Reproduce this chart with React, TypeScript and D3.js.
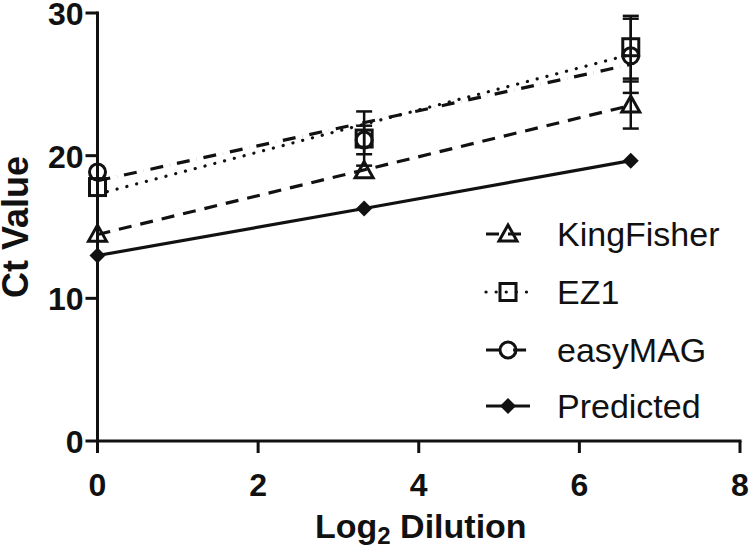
import React from "react";
import * as d3 from "d3";

const xValues = [0, 3.32, 6.64];
const seriesNames = ["KingFisher", "EZ1", "easyMAG", "Predicted"];
const kingFisher = [14.5, 18.95, 23.55];
const kingFisherErr = [0, 0, 1.65];
const ez1 = [17.8, 21.2, 27.6];
const ez1Err = [0, 1.9, 2.2];
const easyMAG = [18.85, 21.1, 27.0];
const easyMAGErr = [0, 1.0, 2.6];
const predicted = [13.0, 16.3, 19.65];
const xTicks = [0, 2, 4, 6, 8];
const yTicks = [0, 10, 20, 30];

const W = 750, H = 553;
const x = d3.scaleLinear().domain([0, 8]).range([97.5, 740]);
const y = d3.scaleLinear().domain([0, 30]).range([441, 13]);

type Kind = "triangle" | "square" | "circle" | "diamond";
const styles: { dash: string | undefined; kind: Kind; fit: boolean }[] = [
  { dash: "13 9", kind: "triangle", fit: true },
  { dash: "0.1 10", kind: "square", fit: true },
  { dash: "13 7 0.1 7", kind: "circle", fit: true },
  { dash: undefined, kind: "diamond", fit: false },
];
const data = [kingFisher, ez1, easyMAG, predicted];
const errs = [kingFisherErr, ez1Err, easyMAGErr, null];

function fit(xs: number[], ys: number[]) {
  const mx = d3.mean(xs)!, my = d3.mean(ys)!;
  const num = d3.sum(xs, (v, i) => (v - mx) * (ys[i] - my));
  const den = d3.sum(xs, (v) => (v - mx) * (v - mx));
  const b = num / den;
  return { a: my - b * mx, b };
}

function Marker({ kind, cx, cy }: { kind: Kind; cx: number; cy: number }) {
  const sw = 3;
  if (kind === "triangle")
    return (
      <path d={`M${cx},${cy - 9}L${cx + 9},${cy + 7}L${cx - 9},${cy + 7}Z`} fill="none" stroke="#111" strokeWidth={sw} strokeLinejoin="miter" />
    );
  if (kind === "square")
    return <rect x={cx - 8} y={cy - 8.5} width={16} height={17} fill="none" stroke="#111" strokeWidth={sw} />;
  if (kind === "circle") return <circle cx={cx} cy={cy} r={8} fill="none" stroke="#111" strokeWidth={sw} />;
  return <path d={`M${cx},${cy - 8}L${cx + 8},${cy}L${cx},${cy + 8}L${cx - 8},${cy}Z`} fill="#111" />;
}

export default function App() {
  const line = d3
    .line<[number, number]>()
    .x((d) => x(d[0]))
    .y((d) => y(d[1]));
  const legendY = [234, 292, 350, 406];
  const tickFont = "'Liberation Sans', Arial, sans-serif";
  return (
    <svg width={W} height={H} style={{ position: "absolute", left: 0, top: 0, background: "#fff" }}>
      {data.map((ys, i) => {
        const st = styles[i];
        let pts: [number, number][];
        if (st.fit) {
          const f = fit(xValues, ys);
          pts = [
            [xValues[0], f.a + f.b * xValues[0]],
            [xValues[xValues.length - 1], f.a + f.b * xValues[xValues.length - 1]],
          ];
        } else pts = xValues.map((v, j) => [v, ys[j]] as [number, number]);
        return (
          <path key={"l" + i} d={line(pts)!} fill="none" stroke="#111" strokeWidth={3.2} strokeDasharray={st.dash} strokeLinecap={st.dash && st.dash.startsWith("0.1") ? "round" : "butt"} />
        );
      })}
      {errs.map((e, i) =>
        e
          ? xValues.map((v, j) =>
              e[j] > 0 ? (
                <g key={`e${i}-${j}`} stroke="#111" strokeWidth={2.5}>
                  <line x1={x(v)} x2={x(v)} y1={y(data[i][j] - e[j])} y2={y(data[i][j] + e[j])} />
                  <line x1={x(v) - 8} x2={x(v) + 8} y1={y(data[i][j] + e[j])} y2={y(data[i][j] + e[j])} />
                  <line x1={x(v) - 8} x2={x(v) + 8} y1={y(data[i][j] - e[j])} y2={y(data[i][j] - e[j])} />
                </g>
              ) : null
            )
          : null
      )}
      {data.map((ys, i) =>
        xValues.map((v, j) => <Marker key={`m${i}-${j}`} kind={styles[i].kind} cx={x(v)} cy={y(ys[j])} />)
      )}
      <g stroke="#111" strokeWidth={3}>
        <line x1={x(0)} x2={x(0)} y1={y(30) - 1.5} y2={y(0)} />
        <line x1={x(0) - 1.5} x2={x(8) + 1.5} y1={y(0)} y2={y(0)} />
        {yTicks.map((t) => (
          <line key={"yt" + t} x1={x(0) - 12} x2={x(0)} y1={y(t)} y2={y(t)} />
        ))}
        {xTicks.map((t) => (
          <line key={"xt" + t} x1={x(t)} x2={x(t)} y1={y(0)} y2={y(0) + 12} />
        ))}
      </g>
      <g fontFamily={tickFont} fontWeight="bold" fontSize={32} fill="#111">
        {yTicks.map((t) => (
          <text key={"yl" + t} x={x(0) - 14} y={y(t) + 12} textAnchor="end">
            {t}
          </text>
        ))}
        {xTicks.map((t) => (
          <text key={"xl" + t} x={x(t)} y={496} textAnchor="middle">
            {t}
          </text>
        ))}
      </g>
      <text x={315} y={538} fontFamily={tickFont} fontWeight="bold" fontSize={34} fill="#111">
        Log<tspan fontSize={24} dy={6}>2</tspan>
        <tspan dy={-6}> Dilution</tspan>
      </text>
      <text transform={`translate(28,${y(15)}) rotate(-90)`} textAnchor="middle" fontFamily={tickFont} fontWeight="bold" fontSize={36} fill="#111">
        Ct Value
      </text>
      {seriesNames.map((name, i) => (
        <g key={"lg" + i}>
          <line x1={486} x2={530} y1={legendY[i]} y2={legendY[i]} stroke="#111" strokeWidth={3.2} strokeDasharray={styles[i].dash} strokeLinecap={styles[i].dash && styles[i].dash!.startsWith("0.1") ? "round" : "butt"} />
          <Marker kind={styles[i].kind} cx={508} cy={legendY[i]} />
          <text x={557} y={legendY[i] + 12} fontFamily={tickFont} fontSize={34} fill="#111">
            {name}
          </text>
        </g>
      ))}
    </svg>
  );
}
